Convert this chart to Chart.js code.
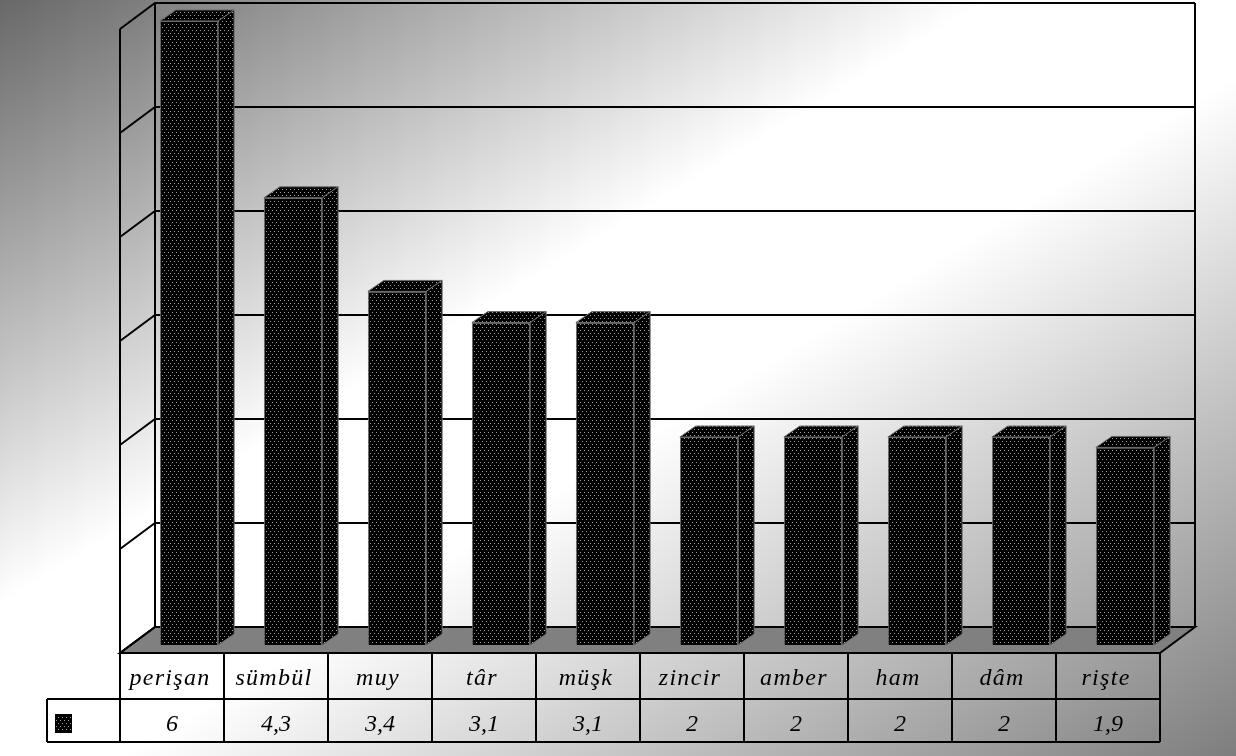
<!DOCTYPE html>
<html>
<head>
<meta charset="utf-8">
<script src="https://cdn.jsdelivr.net/npm/chart.js@4/dist/chart.umd.min.js"></script>
<style>
  html, body { margin: 0; padding: 0; background: #fff; }
  canvas { display: block; }
</style>
</head>
<body>
<canvas id="chart" width="1236" height="756"></canvas>
<script>
const categories = ['perişan', 'sümbül', 'muy', 'târ', 'müşk', 'zincir', 'amber', 'ham', 'dâm', 'rişte']
const counts = [6, 4.3, 3.4, 3.1, 3.1, 2, 2, 2, 2, 1.9]
const yMin = 0
const yMax = 6
const yStep = 1

// offsets from the plane the bar fronts sit in
const BACK = { dx: 18, dy: -18 }
const FRONT = { dx: -17, dy: 8 }
const BAR_DEPTH = { dx: 16, dy: -11 }
const ROW_HEIGHTS = [46, 43]
const KEY_CELL_LEFT = 47
const LABEL_FONT = 'italic 24px "Liberation Serif", "DejaVu Serif", serif'

function dotPattern () {
  const c = document.createElement('canvas')
  c.width = 4
  c.height = 6
  const p = c.getContext('2d')
  p.fillStyle = '#000'
  p.fillRect(0, 0, 4, 6)
  p.fillStyle = '#a0a0a0'
  p.fillRect(0, 0, 1, 1)
  p.fillRect(2, 3, 1, 1)
  return p.createPattern(c, 'repeat')
}

const barFill = dotPattern()

function formatValue (v) {
  return String(v).replace('.', ',')
}

const depthPlugin = {
  id: 'depth',

  beforeDraw (chart) {
    const { ctx, width, height } = chart
    // diagonal shading: dark top-left, white band, grey bottom-right
    const cx = width / 2
    const cy = height / 2
    const len = Math.hypot(width, height)
    const ux = height / len
    const uy = width / len
    const half = (cx * ux + cy * uy)
    const g = ctx.createLinearGradient(cx - ux * half, cy - uy * half, cx + ux * half, cy + uy * half)
    g.addColorStop(0, '#686868')
    g.addColorStop(0.4, '#ffffff')
    g.addColorStop(0.55, '#ffffff')
    g.addColorStop(1, '#7e7e7e')
    ctx.save()
    ctx.fillStyle = g
    ctx.fillRect(0, 0, width, height)
    ctx.restore()
  },

  beforeDatasetsDraw (chart) {
    const { ctx, chartArea } = chart
    const y = chart.scales.y
    const left = chartArea.left
    const right = chartArea.right
    const y0 = y.getPixelForValue(yMin)
    const yTop = y.getPixelForValue(yMax)

    ctx.save()
    ctx.lineWidth = 2
    ctx.strokeStyle = '#000'

    // floor
    ctx.beginPath()
    ctx.moveTo(left + FRONT.dx, y0 + FRONT.dy)
    ctx.lineTo(right + FRONT.dx, y0 + FRONT.dy)
    ctx.lineTo(right + BACK.dx, y0 + BACK.dy)
    ctx.lineTo(left + BACK.dx, y0 + BACK.dy)
    ctx.closePath()
    ctx.fillStyle = '#808080'
    ctx.fill()
    ctx.stroke()

    // gridlines across the side wall and back wall
    y.ticks.forEach(t => {
      const py = y.getPixelForValue(t.value)
      ctx.beginPath()
      ctx.moveTo(left + FRONT.dx, py + FRONT.dy)
      ctx.lineTo(left + BACK.dx, py + BACK.dy)
      ctx.lineTo(right + BACK.dx, py + BACK.dy)
      ctx.stroke()
    })

    // wall edges
    ctx.beginPath()
    ctx.moveTo(left + FRONT.dx, yTop + FRONT.dy)
    ctx.lineTo(left + FRONT.dx, y0 + FRONT.dy)
    ctx.moveTo(left + BACK.dx, yTop + BACK.dy)
    ctx.lineTo(left + BACK.dx, y0 + BACK.dy)
    ctx.moveTo(right + BACK.dx, yTop + BACK.dy)
    ctx.lineTo(right + BACK.dx, y0 + BACK.dy)
    ctx.stroke()
    ctx.restore()
  },

  afterDatasetsDraw (chart) {
    const { ctx } = chart
    const meta = chart.getDatasetMeta(0)

    ctx.save()
    ctx.fillStyle = barFill
    ctx.strokeStyle = '#6a6a6a'
    ctx.lineWidth = 1
    meta.data.forEach(bar => {
      const x0 = bar.x - bar.width / 2
      const x1 = bar.x + bar.width / 2
      const top = bar.y
      const base = bar.base

      // top face
      ctx.beginPath()
      ctx.moveTo(x0, top)
      ctx.lineTo(x0 + BAR_DEPTH.dx, top + BAR_DEPTH.dy)
      ctx.lineTo(x1 + BAR_DEPTH.dx, top + BAR_DEPTH.dy)
      ctx.lineTo(x1, top)
      ctx.closePath()
      ctx.fill()
      ctx.stroke()

      // side face
      ctx.beginPath()
      ctx.moveTo(x1, top)
      ctx.lineTo(x1 + BAR_DEPTH.dx, top + BAR_DEPTH.dy)
      ctx.lineTo(x1 + BAR_DEPTH.dx, base + BAR_DEPTH.dy)
      ctx.lineTo(x1, base)
      ctx.closePath()
      ctx.fill()
      ctx.stroke()
    })
    ctx.restore()
  },

  afterDraw (chart) {
    const { ctx, chartArea } = chart
    const y = chart.scales.y
    const x = chart.scales.x
    const cellW = (chartArea.right - chartArea.left) / categories.length
    const tableLeft = chartArea.left + FRONT.dx
    const tableRight = chartArea.right + FRONT.dx
    const rowTop = y.getPixelForValue(yMin) + FRONT.dy
    const rowMid = rowTop + ROW_HEIGHTS[0]
    const rowBottom = rowMid + ROW_HEIGHTS[1]

    ctx.save()
    ctx.strokeStyle = '#000'
    ctx.lineWidth = 2

    ctx.beginPath()
    ctx.moveTo(KEY_CELL_LEFT, rowMid)
    ctx.lineTo(tableRight, rowMid)
    ctx.moveTo(KEY_CELL_LEFT, rowBottom)
    ctx.lineTo(tableRight, rowBottom)
    ctx.moveTo(KEY_CELL_LEFT, rowMid)
    ctx.lineTo(KEY_CELL_LEFT, rowBottom)
    for (let i = 0; i <= categories.length; i++) {
      const cx = tableLeft + i * cellW
      ctx.moveTo(cx, rowTop)
      ctx.lineTo(cx, rowBottom)
    }
    ctx.stroke()

    // series key
    ctx.fillStyle = barFill
    ctx.fillRect(55, 714, 17, 19)
    ctx.lineWidth = 1
    ctx.strokeStyle = '#000'
    ctx.strokeRect(55.5, 714.5, 16, 18)

    ctx.fillStyle = '#000'
    ctx.font = LABEL_FONT
    ctx.textAlign = 'center'
    ctx.textBaseline = 'alphabetic'
    categories.forEach((name, i) => {
      const cx = x.getPixelForValue(i) + FRONT.dx
      ctx.letterSpacing = '1.3px'
      ctx.fillText(name, cx - 2, rowTop + 32)
      ctx.letterSpacing = '0px'
      ctx.fillText(formatValue(counts[i]), cx, rowMid + 32)
    })
    ctx.restore()
  }
}

new Chart(document.getElementById('chart'), {
  type: 'bar',
  data: {
    labels: categories,
    datasets: [
      {
        data: counts,
        backgroundColor: barFill,
        borderColor: '#6a6a6a',
        borderWidth: 1,
        barPercentage: 0.56,
        categoryPercentage: 1
      }
    ]
  },
  options: {
    responsive: false,
    animation: false,
    devicePixelRatio: 1,
    layout: {
      padding: { left: 137, right: 59, top: 21, bottom: 111 }
    },
    plugins: {
      legend: { display: false },
      tooltip: { enabled: false }
    },
    scales: {
      x: { display: false, offset: true },
      y: {
        display: false,
        min: yMin,
        max: yMax,
        ticks: { stepSize: yStep }
      }
    }
  },
  plugins: [depthPlugin]
})
</script>
</body>
</html>
